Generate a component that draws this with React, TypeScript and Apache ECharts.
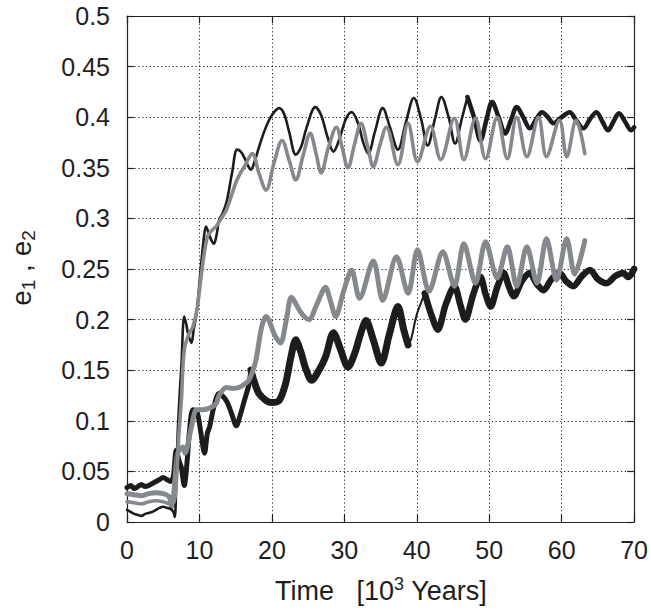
import React, { useEffect, useRef } from "react";
import * as echarts from "echarts";

// Time in 10^3 years, eccentricity
const upperBlack: [number, number][] = [
  [0, 0.012], [0.5, 0.01], [1, 0.008], [1.5, 0.007], [2, 0.006], [2.5, 0.008], [3, 0.009], [3.5, 0.01],
  [4, 0.012], [4.5, 0.014], [5, 0.015], [5.5, 0.014], [6, 0.013], [6.4, 0.01], [6.6, 0.005], [6.8, 0.04],
  [7.0, 0.088], [7.3, 0.13], [7.5, 0.153], [7.9, 0.203], [8.2, 0.195], [8.4, 0.187], [8.9, 0.177], [9.2, 0.19],
  [9.6, 0.206], [10.2, 0.252], [10.6, 0.28], [10.9, 0.292], [11.3, 0.285], [11.6, 0.279], [12.0, 0.275],
  [12.4, 0.285], [12.7, 0.298], [13.2, 0.305], [13.8, 0.318], [14.5, 0.345], [15.2, 0.368], [15.7, 0.366],
  [16.2, 0.36], [16.7, 0.352], [17.1, 0.348], [17.6, 0.356], [18.2, 0.37], [19.0, 0.387], [19.6, 0.397],
  [20.3, 0.405], [21, 0.409], [21.7, 0.403], [22.4, 0.385], [23.3, 0.363], [24.0, 0.37], [24.8, 0.39],
  [26, 0.41], [26.8, 0.402], [27.7, 0.38], [28.5, 0.366], [29.3, 0.378], [30.2, 0.398], [31, 0.405],
  [31.9, 0.394], [32.6, 0.375], [33.3, 0.364], [34.2, 0.385], [35.3, 0.409], [36.3, 0.39], [37.4, 0.368],
  [38.5, 0.395], [39.6, 0.419], [40.6, 0.398], [41.5, 0.372], [42.5, 0.398], [43.4, 0.42], [44.4, 0.4],
  [45.3, 0.374], [46.2, 0.398], [47, 0.42], [47.9, 0.4], [48.8, 0.377], [49.6, 0.397], [50.4, 0.415],
  [51.3, 0.4], [52.2, 0.384], [53, 0.397], [53.8, 0.41], [54.7, 0.4], [55.6, 0.389], [56.5, 0.398],
  [57.3, 0.405], [58.1, 0.4], [58.9, 0.394], [60, 0.4], [61.1, 0.405], [62, 0.397], [63, 0.389],
  [63.9, 0.398], [64.8, 0.405], [65.6, 0.396], [66.4, 0.387], [67.1, 0.395], [67.9, 0.404], [68.8, 0.395],
  [69.6, 0.387], [70, 0.39],
];

const upperGray: [number, number][] = [
  [0, 0.02], [1, 0.019], [2, 0.018], [3, 0.02], [4, 0.021], [5, 0.02], [6, 0.018], [6.5, 0.02],
  [6.8, 0.038], [7.1, 0.08], [7.5, 0.12], [7.9, 0.17], [8.5, 0.185], [9.1, 0.193], [9.7, 0.212],
  [10.4, 0.252], [11.1, 0.282], [11.7, 0.288], [12.3, 0.292], [13.0, 0.3], [13.7, 0.308], [14.3, 0.32],
  [15, 0.335], [15.6, 0.344], [16.2, 0.351], [17.3, 0.364], [18.2, 0.345], [19.2, 0.328], [20.3, 0.355],
  [21.4, 0.377], [22.4, 0.357], [23.3, 0.338], [24.3, 0.362], [25.3, 0.384], [26.1, 0.364], [26.8, 0.345],
  [27.8, 0.37], [28.9, 0.39], [29.7, 0.37], [30.5, 0.35], [31.4, 0.373], [32.3, 0.394], [33.2, 0.372],
  [34, 0.351], [34.9, 0.372], [35.8, 0.39], [37.4, 0.353], [38.8, 0.394], [40.1, 0.356], [41.9, 0.391],
  [43.3, 0.358], [45.2, 0.399], [46.5, 0.358], [48.1, 0.399], [49.5, 0.359], [51.1, 0.4], [52.5, 0.359],
  [53.8, 0.4], [55.2, 0.361], [56.8, 0.4], [57.9, 0.361], [59.7, 0.397], [60.7, 0.361], [62, 0.397],
  [63.2, 0.364],
];

const lowerBlack: [number, number][] = [
  [0, 0.034], [0.5, 0.036], [1, 0.033], [1.5, 0.035], [2, 0.037], [2.5, 0.035], [3, 0.036], [3.5, 0.038],
  [4, 0.04], [4.5, 0.042], [5, 0.044], [5.5, 0.042], [6, 0.04], [6.4, 0.045], [6.8, 0.071], [7.2, 0.06],
  [7.5, 0.054], [7.9, 0.036], [8.3, 0.06], [8.6, 0.088], [9.1, 0.111], [9.7, 0.108], [10.2, 0.088],
  [10.7, 0.068], [11.1, 0.088], [11.4, 0.094], [12, 0.114], [12.7, 0.127], [13.7, 0.12], [14.4, 0.108],
  [15.1, 0.095], [15.6, 0.105], [16.2, 0.12], [16.8, 0.135], [17.1, 0.15], [17.6, 0.138], [18.2, 0.127],
  [19.2, 0.12], [20, 0.118], [21, 0.12], [21.9, 0.137], [22.6, 0.162], [23.3, 0.18], [24, 0.168],
  [24.6, 0.153], [25.5, 0.14], [26.5, 0.15], [27.4, 0.163], [28.5, 0.187], [29.5, 0.17], [30.5, 0.153],
  [31.5, 0.168], [32.2, 0.185], [33, 0.199], [34, 0.18], [35.1, 0.157], [36.2, 0.185], [37.4, 0.213],
  [38.2, 0.19], [38.8, 0.175], [39.2, 0.18], [40, 0.205], [41.1, 0.226], [42, 0.205], [42.9, 0.19],
  [44, 0.215], [45.2, 0.233], [46, 0.215], [46.7, 0.2], [47.8, 0.225], [48.8, 0.242], [49.5, 0.225],
  [50.2, 0.213], [51.1, 0.232], [52, 0.246], [52.7, 0.233], [53.4, 0.223], [54.5, 0.238], [55.6, 0.246],
  [56.5, 0.236], [57.5, 0.229], [58.6, 0.24], [59.7, 0.246], [60.6, 0.238], [61.6, 0.233], [62.8, 0.243],
  [63.9, 0.249], [65, 0.24], [66.2, 0.236], [67.4, 0.243], [68.5, 0.246], [69.2, 0.242], [70, 0.25],
];

const lowerGray: [number, number][] = [
  [0, 0.028], [1, 0.027], [2, 0.026], [3, 0.028], [4, 0.029], [5, 0.028], [5.8, 0.025], [6.2, 0.015],
  [6.6, 0.04], [7, 0.068], [7.7, 0.074], [8, 0.068], [8.9, 0.094], [9.6, 0.111], [10.4, 0.111],
  [11.2, 0.112], [12.3, 0.117], [12.7, 0.125], [13.7, 0.133], [14.5, 0.132], [15.5, 0.133], [16.2, 0.136],
  [16.8, 0.14], [17.3, 0.148], [17.8, 0.16], [18.6, 0.193], [19.2, 0.203], [20.5, 0.183], [21.2, 0.177],
  [22, 0.2], [22.7, 0.222], [24, 0.207], [25.1, 0.2], [26.2, 0.215], [27.4, 0.232], [28.1, 0.218],
  [28.8, 0.203], [29.9, 0.228], [31, 0.249], [32.1, 0.221], [34, 0.258], [35.3, 0.219], [37.2, 0.262],
  [38.8, 0.226], [40.1, 0.269], [41.7, 0.228], [43.6, 0.267], [45.2, 0.233], [46.5, 0.275], [48.1, 0.236],
  [49.5, 0.277], [51.1, 0.241], [52.5, 0.272], [53.8, 0.233], [55.2, 0.272], [56.6, 0.236], [57.9, 0.28],
  [59.3, 0.239], [60.7, 0.28], [61.8, 0.245], [63.2, 0.278],
];

const xTicks = [0, 10, 20, 30, 40, 50, 60, 70];
const yTickStep = 0.05;

const BLACK = "#1c1c1c";
const GRAY = "#85898d";
const FONT = "Liberation Sans, Arial, Helvetica, sans-serif";

// pick the part of a series between two times (inclusive)
const part = (d: [number, number][], a: number, b: number) => d.filter(([x]) => x >= a && x <= b);

export default function App() {
  const ref = useRef<HTMLDivElement>(null);
  useEffect(() => {
    if (!ref.current) return;
    const chart = echarts.init(ref.current, undefined, { renderer: "svg" });
    const gridLine = { show: true, lineStyle: { color: "#222", width: 1, type: [1.2, 2.6] as any } };
    const axisLine = { show: true, onZero: false, lineStyle: { color: "#222", width: 1.2 } };
    const tick = { show: true, inside: true, length: 7, lineStyle: { color: "#222", width: 1.2 } };
    const label = { fontSize: 25, color: "#1e1e1e", fontFamily: FONT };
    const line = (name: string, data: [number, number][], color: string, width: number, z: number, smooth = 0.3) => ({
      name, type: "line", data, showSymbol: false, symbol: "none", smooth,
      lineStyle: { color, width, cap: "round", join: "round" }, z,
    });
    chart.setOption({
      animation: false,
      backgroundColor: "#ffffff",
      grid: { left: 127, right: 13, top: 16, bottom: 88 },
      xAxis: [
        {
          type: "value", min: xTicks[0], max: xTicks[xTicks.length - 1], interval: 10,
          axisLine, axisTick: tick, splitLine: gridLine,
          axisLabel: { ...label, margin: 15 },
        },
        {
          type: "value", position: "top", min: xTicks[0], max: xTicks[xTicks.length - 1], interval: 10,
          axisLine, axisTick: tick, splitLine: { show: false }, axisLabel: { show: false },
        },
      ],
      yAxis: [
        {
          type: "value", min: 0, max: 0.5, interval: yTickStep,
          axisLine, axisTick: tick, splitLine: gridLine,
          axisLabel: { ...label, margin: 17, formatter: (v: number) => String(+v.toFixed(2)) },
        },
        {
          type: "value", position: "right", min: 0, max: 0.5, interval: yTickStep,
          axisLine, axisTick: tick, splitLine: { show: false }, axisLabel: { show: false },
        },
      ],
      series: [
        line("lowerBlack", part(lowerBlack, 0, 17.1), BLACK, 5, 2),
        line("lowerBlack", part(lowerBlack, 17.1, 38.8), BLACK, 7, 2),
        line("lowerBlack", part(lowerBlack, 38.8, 41.1), BLACK, 2, 2),
        line("lowerBlack", part(lowerBlack, 41.1, 70), BLACK, 6.5, 2),
        line("lowerGray", lowerGray, GRAY, 5, 3),
        line("upperBlack", part(upperBlack, 0, 47), BLACK, 2.6, 4, 0.35),
        line("upperBlack", part(upperBlack, 47, 70), BLACK, 4.5, 4, 0.35),
        line("upperGray", upperGray, GRAY, 3.6, 5, 0.35),
      ],
      graphic: [
        {
          type: "text", x: 381, y: 591,
          style: {
            text: "{b|Time   [10}{sup|3}{b| Years]}",
            fill: "#1e1e1e", fontSize: 27, fontFamily: FONT, align: "center", verticalAlign: "middle",
            rich: {
              b: { fontSize: 27, fontFamily: FONT, fill: "#1e1e1e", lineHeight: 32 },
              sup: { fontSize: 18, fontFamily: FONT, fill: "#1e1e1e", verticalAlign: "top", lineHeight: 22 },
            },
          },
        },
        {
          type: "text", x: 21, y: 268, rotation: Math.PI / 2,
          style: {
            text: "{b|e}{sub|1}{b| , e}{sub|2}",
            fill: "#1e1e1e", fontSize: 28, fontFamily: FONT, align: "center", verticalAlign: "middle",
            rich: {
              b: { fontSize: 28, fontFamily: FONT, fill: "#1e1e1e", lineHeight: 34 },
              sub: { fontSize: 19, fontFamily: FONT, fill: "#1e1e1e", verticalAlign: "bottom", lineHeight: 18 },
            },
          },
        },
      ],
    });
    return () => chart.dispose();
  }, []);
  return (
    <div
      ref={ref}
      style={{ position: "fixed", left: 0, top: 0, width: 651, height: 610, background: "#fff" }}
    />
  );
}
